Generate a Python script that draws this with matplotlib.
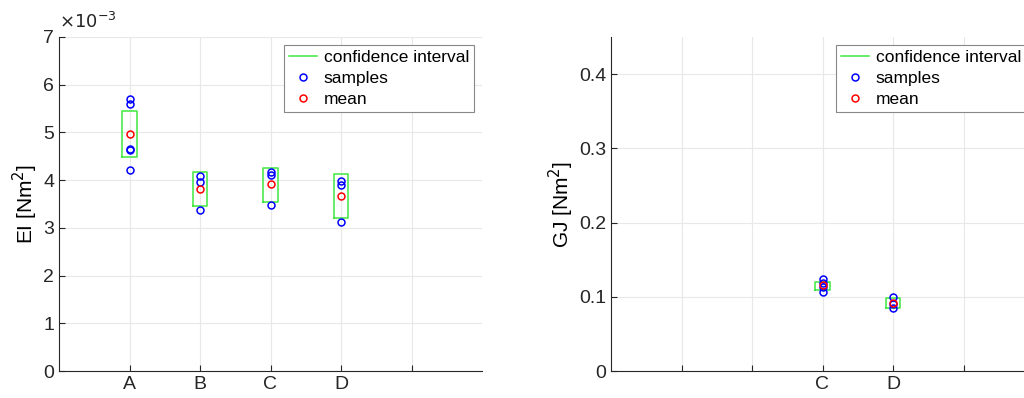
import matplotlib.pyplot as plt
import numpy as np

plt.rcParams.update({'font.size': 14, 'font.family': ['Liberation Sans', 'DejaVu Sans']})

# EI samples (x1e-3 Nm^2)
ei_labels = ["A", "B", "C", "D"]
ei_pos = [1, 2, 3, 4]
ei_samples = [
    [5.70, 5.60, 4.65, 4.63, 4.21],
    [4.08, 3.97, 3.38],
    [4.17, 4.10, 3.47],
    [3.98, 3.89, 3.12],
]
ei_ci_low = [4.48, 3.45, 3.54, 3.21]
ei_ci_high = [5.44, 4.17, 4.26, 4.12]

# GJ samples (Nm^2)
gj_labels = ["C", "D"]
gj_pos = [3, 4]
gj_samples = [
    [0.124, 0.119, 0.113, 0.107],
    [0.100, 0.090, 0.085],
]
gj_ci_low = [0.109, 0.0844]
gj_ci_high = [0.120, 0.098]

half_w = 0.1
axis_col = "#262626"


def draw(ax, pos, samples, lo, hi, scale=1.0):
    for i, p in enumerate(pos):
        bx = [p - half_w, p + half_w, p + half_w, p - half_w, p - half_w]
        by = np.array([lo[i], lo[i], hi[i], hi[i], lo[i]]) * scale
        ax.plot(bx, by, color="#3ee83e", lw=1.1,
                label="confidence interval" if i == 0 else None, zorder=3)
    for i, p in enumerate(pos):
        s = np.array(samples[i]) * scale
        ax.plot([p] * len(s), s, "o", mfc="none", mec="#0000ff", ms=5, mew=1.1,
                label="samples" if i == 0 else None, zorder=4)
    for i, p in enumerate(pos):
        m = np.mean(samples[i]) * scale
        ax.plot([p], [m], "o", mfc="none", mec="#ff0000", ms=5, mew=1.1,
                label="mean" if i == 0 else None, zorder=5)


def style(ax):
    ax.set_xlim(0, 6)
    ax.grid(True, color="#e8e8e8", lw=0.8)
    ax.set_axisbelow(True)
    for s in ["top", "right"]:
        ax.spines[s].set_visible(False)
    for s in ["left", "bottom"]:
        ax.spines[s].set_color(axis_col)
        ax.spines[s].set_linewidth(0.8)
    ax.tick_params(direction="in", colors=axis_col, length=4, width=0.8, labelsize=14)
    leg = ax.legend(loc="upper right", fontsize=12.5, fancybox=False, framealpha=1,
                    edgecolor="#888888", borderaxespad=0.45, handlelength=1.6,
                    handletextpad=0.4, labelspacing=0.33, borderpad=0.3)
    leg.get_frame().set_linewidth(0.8)


fig = plt.figure(figsize=(10.24, 3.98), dpi=100)
ax1 = fig.add_axes([59 / 1024, 27 / 398, 423 / 1024, 334 / 398])
ax2 = fig.add_axes([611 / 1024, 27 / 398, 423 / 1024, 334 / 398])

draw(ax1, ei_pos, ei_samples, ei_ci_low, ei_ci_high, scale=1e-3)
ax1.set_ylim(0, 7e-3)
ax1.set_yticks(np.arange(0, 8) * 1e-3)
ax1.set_yticklabels([str(i) for i in range(8)])
ax1.set_xticks([1, 2, 3, 4, 5])
ax1.set_xticklabels(ei_labels + [""])
ax1.set_ylabel("EI [Nm$^2$]", fontsize=15, labelpad=2)
ax1.text(0.0, 1.015, r"$\times10^{-3}$", transform=ax1.transAxes, fontsize=13,
         ha="left", va="bottom", color=axis_col)
style(ax1)

draw(ax2, gj_pos, gj_samples, gj_ci_low, gj_ci_high)
ax2.set_ylim(0, 0.45)
ax2.set_yticks([0, 0.1, 0.2, 0.3, 0.4])
ax2.set_yticklabels(["0", "0.1", "0.2", "0.3", "0.4"])
ax2.set_xticks([1, 2, 3, 4, 5])
ax2.set_xticklabels(["", ""] + gj_labels + [""])
ax2.set_ylabel("GJ [Nm$^2$]", fontsize=15, labelpad=2)
style(ax2)

fig.savefig("out.png", dpi=100)
